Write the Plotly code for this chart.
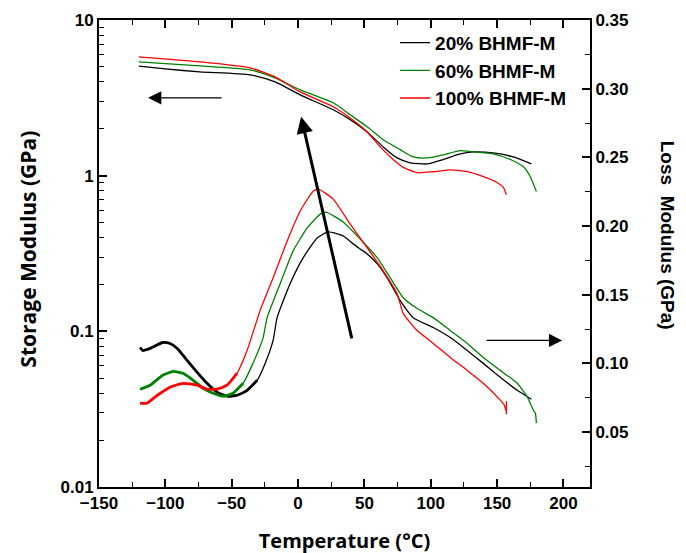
"""
DMA curves: storage modulus (log, left) and loss modulus (right) vs temperature.
"""
import plotly.graph_objects as go

W, H = 686, 553
TICK_FONT = dict(family="Liberation Sans, Arial", size=17, color="black", weight="bold")
TITLE_FONT = dict(family="Open Sans, Liberation Sans", size=20, color="black", weight="bold")

LABELS = ["20% BHMF-M", "60% BHMF-M", "100% BHMF-M"]
COLORS = ["#000000", "#008000", "#ff0000"]

# storage modulus (GPa)
t_e20 = [-120, -100, -74, -36, -17.3, 1.6, 26.5, 39.3, 52.1, 64.2, 74.7, 84.5, 97.4, 109.4, 122.2, 132, 147.1, 162.2, 175.8]
e20 = [5.05, 4.85, 4.64, 4.44, 4.0, 3.30, 2.65, 2.29, 1.91, 1.53, 1.30, 1.21, 1.19, 1.27, 1.38, 1.42, 1.40, 1.32, 1.19]
t_e60 = [-120, -74, -36, -17.3, 1.6, 26.5, 39.3, 52.1, 64.2, 77, 86.8, 97.4, 109.4, 122.2, 132, 147.1, 160, 169.8, 175, 179.6]
e60 = [5.38, 5.07, 4.78, 4.25, 3.56, 2.94, 2.46, 2.06, 1.70, 1.47, 1.32, 1.30, 1.36, 1.45, 1.42, 1.38, 1.27, 1.14, 0.985, 0.79]
t_e100 = [-120, -74, -36, -17.3, 1.6, 26.5, 39.3, 52.1, 61.9, 71.7, 79.3, 89.8, 101.9, 114.7, 127.5, 139.6, 150.2, 154.7, 156.9]
e100 = [5.79, 5.38, 4.92, 4.31, 3.45, 2.77, 2.35, 1.91, 1.53, 1.27, 1.13, 1.045, 1.06, 1.09, 1.06, 0.985, 0.90, 0.84, 0.755]

# loss modulus (GPa)
t_l20 = [-119, -117, -111.5, -102, -96.5, -91, -83.6, -76, -68.6, -61, -53.5, -46, -38.4, -30.8, -24.8, -18.8,
         -15.8, -6, 3.8, 14.4, 22.7, 34, 41.6, 46.8, 52.1, 59.7, 67.2, 77, 86.8, 101.9, 114.7, 127.5, 139.6,
         152.4, 165.2, 175.8]
l20 = [0.1116, 0.1094, 0.1109, 0.1152, 0.1145, 0.1109, 0.1022, 0.0935, 0.0855, 0.079, 0.0761, 0.0768, 0.0804,
       0.0877, 0.100, 0.1167, 0.1333, 0.158, 0.1768, 0.1913, 0.1957, 0.1928, 0.187, 0.1833, 0.1797, 0.1725,
       0.1623, 0.1457, 0.1333, 0.1261, 0.1188, 0.1094, 0.100, 0.0899, 0.0804, 0.0739]
t_l60 = [-119, -111.5, -102, -94, -86.7, -79, -71.6, -64, -56.5, -49, -41.4, -34, -26.3, -23.3, -13.5, -3.7,
         6.9, 16.7, 21, 34, 46.8, 59.7, 69.5, 79.3, 89.8, 101.9, 114.7, 127.5, 139.6, 152.4, 165.2, 172.8,
         177.3, 178.8, 179.6]
l60 = [0.0812, 0.0841, 0.0913, 0.0942, 0.0928, 0.0877, 0.0819, 0.0783, 0.0761, 0.0783, 0.0855, 0.100, 0.1188,
       0.1333, 0.158, 0.1819, 0.1986, 0.2087, 0.2101, 0.203, 0.1906, 0.1768, 0.1623, 0.1478, 0.1399, 0.1333,
       0.1239, 0.1145, 0.1043, 0.0949, 0.0855, 0.0754, 0.0659, 0.0638, 0.0565]
t_l100 = [-119, -114, -106, -96.5, -86.7, -76, -68.6, -61, -53.5, -46, -38.4, -28.6, -18.8, -8.2, 1.6, 11.4,
          15.2, 26.5, 39.3, 52.1, 64.2, 74.7, 79.3, 89.8, 101.9, 114.7, 127.5, 139.6, 152.4, 155.4, 156.9,
          157, 157]
l100 = [0.071, 0.071, 0.0768, 0.0826, 0.0855, 0.0841, 0.0812, 0.0812, 0.0841, 0.0928, 0.1094, 0.1384, 0.1623,
        0.1891, 0.2109, 0.2254, 0.2268, 0.2196, 0.2014, 0.1841, 0.1674, 0.1507, 0.1362, 0.1239, 0.1145, 0.1043,
        0.0949, 0.0855, 0.0732, 0.0696, 0.0650, 0.0722, 0.0630]

# low-T loss data is scattered; that part is drawn thicker
NOISY_BELOW = [-30, -38, -42]

fig = go.Figure()

for (t, e), name, color in zip([(t_e20, e20), (t_e60, e60), (t_e100, e100)], LABELS, COLORS):
    fig.add_trace(go.Scatter(x=t, y=e, mode="lines", name=name,
                             line=dict(color=color, width=1.3, shape="spline", smoothing=0.6)))

for t, l, color, cut in zip([t_l20, t_l60, t_l100], [l20, l60, l100], COLORS, NOISY_BELOW):
    fig.add_trace(go.Scatter(x=t, y=l, mode="lines", yaxis="y2", showlegend=False,
                             line=dict(color=color, width=1.3, shape="spline", smoothing=0.5)))
    lo = [i for i, v in enumerate(t) if v <= cut]
    fig.add_trace(go.Scatter(x=[t[i] for i in lo], y=[l[i] for i in lo], mode="lines", yaxis="y2",
                             showlegend=False, line=dict(color=color, width=2.8, shape="spline", smoothing=0.5)))

axis_common = dict(showline=True, linecolor="black", linewidth=2, ticks="inside", ticklen=8,
                   tickwidth=1.5, tickcolor="black", showgrid=False, zeroline=False, tickfont=TICK_FONT,
                   automargin=False)

# the page body adds 8 px, so margins are 8 px short on the left and top
fig.update_layout(
    width=W, height=H,
    paper_bgcolor="white", plot_bgcolor="white",
    margin=dict(l=91, r=104, t=12, b=74),
    xaxis=dict(range=[-150, 220], dtick=50, mirror="ticks",
               minor=dict(dtick=25, ticks="inside", ticklen=5, tickcolor="black", tickwidth=1.2),
               title=dict(text="Temperature (°C)", font=TITLE_FONT, standoff=22),
               **axis_common),
    yaxis=dict(type="log", range=[-2, 1], dtick=1,
               minor=dict(dtick="D1", ticks="inside", ticklen=5, tickcolor="black", tickwidth=1.2),
               **axis_common),
    yaxis2=dict(overlaying="y", side="right", range=[0.01, 0.35], tickvals=[0.05, 0.10, 0.15, 0.20, 0.25, 0.30, 0.35],
                tickformat=".2f",
                minor=dict(dtick=0.025, tick0=0, ticks="inside", ticklen=5, tickcolor="black", tickwidth=1.2),
                **axis_common),
    legend=dict(x=0.603, y=0.992, xanchor="left", yanchor="top", bgcolor="rgba(0,0,0,0)",
                font=dict(family="Liberation Sans, Arial", size=19, color="black", weight="bold"),
                tracegroupgap=0),
    showlegend=True,
)

fig.add_annotation(text="Storage Modulus (GPa)", xref="paper", yref="paper", x=-0.145, y=0.51,
                   xanchor="center", yanchor="middle", textangle=-90, showarrow=False,
                   font=dict(family="Open Sans, Liberation Sans", size=21, color="black", weight="bold"))
fig.add_annotation(text="Loss  Modulus (GPa)", xref="paper", yref="paper", x=1.157, y=0.54,
                   xanchor="center", yanchor="middle", textangle=90, showarrow=False,
                   font=dict(family="Liberation Sans, Arial", size=19, color="black", weight="bold"))

# arrows pointing to the axis each set belongs to
fig.add_annotation(x=-113, y=0.5, xref="x", yref="y", ax=75, ay=0, text="", showarrow=True,
                   arrowhead=2, arrowsize=2.2, arrowwidth=1.2, arrowcolor="black")
fig.add_annotation(x=199, y=0.1167, xref="x", yref="y2", ax=-77, ay=0, text="", showarrow=True,
                   arrowhead=2, arrowsize=2.2, arrowwidth=1.2, arrowcolor="black")
# increasing BHMF-M content
fig.add_annotation(x=2.3, y=0.378, xref="x", yref="y", ax=51, ay=223, text="", showarrow=True,
                   arrowhead=2, arrowsize=1.1, arrowwidth=3, arrowcolor="black")

fig.write_html("out.html")
